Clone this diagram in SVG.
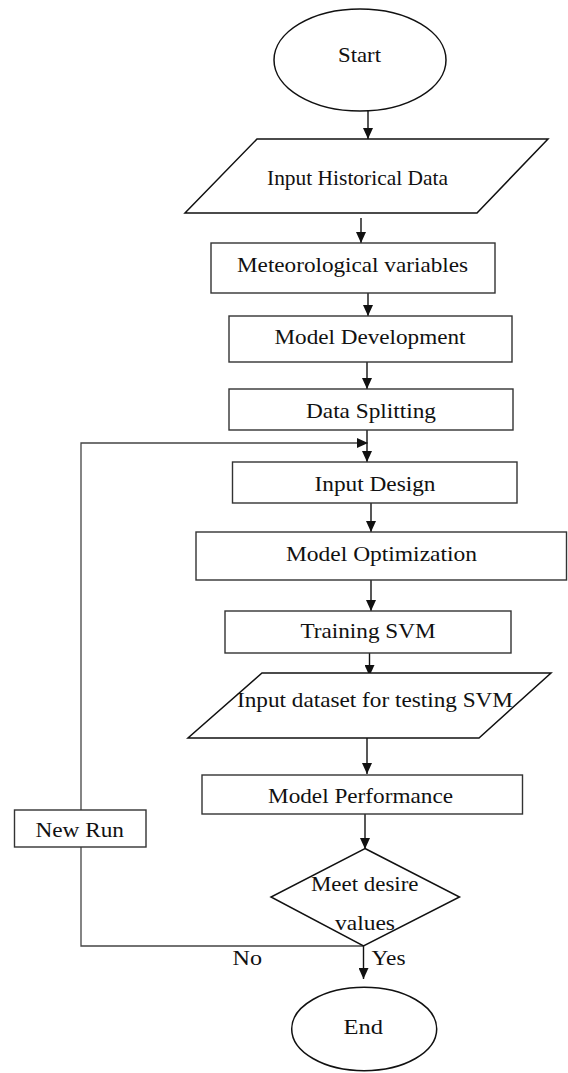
<svg xmlns="http://www.w3.org/2000/svg" width="568" height="1073" viewBox="0 0 568 1073">
  <style>
    .shape { fill: #ffffff; stroke: #333333; stroke-width: 1.4; }
    .term { fill: #ffffff; stroke: #111111; stroke-width: 1.5; }
    .lbl { font-family: "Liberation Serif", "Times New Roman", serif; font-size: 21.5px; fill: #111111; }
    .wire { fill: none; stroke: #111111; stroke-width: 1.4; }
    .loop { fill: none; stroke: #444444; stroke-width: 1.3; }
  </style>
  <defs>
    <marker id="arrow" markerUnits="userSpaceOnUse" markerWidth="11" markerHeight="10" refX="11" refY="5" orient="auto">
      <path d="M0,0 L11,5 L0,10 z" fill="#111111"/>
    </marker>
  </defs>

  <rect width="568" height="1073" fill="#ffffff"/>

  <!-- connectors -->
  <g id="connectors">
    <line class="wire" x1="368" y1="111" x2="368" y2="139" marker-end="url(#arrow)"/>
    <line class="wire" x1="361" y1="218" x2="361" y2="243" marker-end="url(#arrow)"/>
    <line class="wire" x1="368" y1="293" x2="368" y2="316" marker-end="url(#arrow)"/>
    <line class="wire" x1="367" y1="362" x2="367" y2="389" marker-end="url(#arrow)"/>
    <line class="wire" x1="367" y1="430" x2="367" y2="462" marker-end="url(#arrow)"/>
    <polyline class="loop" points="81,810 81,443 368,443" marker-end="url(#arrow)"/>
    <line class="wire" x1="371" y1="503" x2="371" y2="532" marker-end="url(#arrow)"/>
    <line class="wire" x1="371" y1="580" x2="371" y2="611" marker-end="url(#arrow)"/>
    <line class="wire" x1="369.5" y1="633" x2="369.5" y2="676" marker-end="url(#arrow)"/>
    <line class="wire" x1="367" y1="738" x2="367" y2="774" marker-end="url(#arrow)"/>
    <line class="wire" x1="365" y1="814" x2="365" y2="849" marker-end="url(#arrow)"/>
    <line class="wire" x1="363.5" y1="946" x2="363.5" y2="979" marker-end="url(#arrow)"/>
    <polyline class="loop" points="363.5,946 81,946 81,847"/>
    <text class="lbl" x="232.5" y="965" textLength="29.5" lengthAdjust="spacingAndGlyphs">No</text>
    <text class="lbl" x="371.5" y="965" textLength="34" lengthAdjust="spacingAndGlyphs">Yes</text>
  </g>

  <g id="start">
    <ellipse class="term" cx="360" cy="60" rx="86" ry="51"/>
    <text class="lbl" x="338" y="62" textLength="43" lengthAdjust="spacingAndGlyphs">Start</text>
  </g>

  <g id="input-historical-data">
    <polygon class="term" points="257,139 548,139 477,213 185,213"/>
    <text class="lbl" x="267" y="185" textLength="181" lengthAdjust="spacingAndGlyphs">Input Historical Data</text>
  </g>

  <g id="meteorological-variables">
    <rect class="shape" x="211" y="243" width="284" height="50"/>
    <text class="lbl" x="237" y="272" textLength="231" lengthAdjust="spacingAndGlyphs">Meteorological variables</text>
  </g>

  <g id="model-development">
    <rect class="shape" x="229" y="316" width="283" height="46"/>
    <text class="lbl" x="274.5" y="344" textLength="191" lengthAdjust="spacingAndGlyphs">Model Development</text>
  </g>

  <g id="data-splitting">
    <rect class="shape" x="229" y="389" width="284" height="41"/>
    <text class="lbl" x="306" y="418" textLength="130" lengthAdjust="spacingAndGlyphs">Data Splitting</text>
  </g>

  <g id="input-design">
    <rect class="shape" x="232.5" y="462" width="284.5" height="41"/>
    <text class="lbl" x="314.5" y="491" textLength="121" lengthAdjust="spacingAndGlyphs">Input Design</text>
  </g>

  <g id="model-optimization">
    <rect class="shape" x="196" y="532" width="370.5" height="48"/>
    <text class="lbl" x="286" y="561" textLength="191" lengthAdjust="spacingAndGlyphs">Model Optimization</text>
  </g>

  <g id="training-svm">
    <rect class="shape" x="225" y="611" width="286" height="42"/>
    <text class="lbl" x="300.5" y="638" textLength="135" lengthAdjust="spacingAndGlyphs">Training SVM</text>
  </g>

  <g id="input-testing-dataset">
    <polygon class="term" points="262,673 551,673 479,738 188,738"/>
    <text class="lbl" x="237" y="707" textLength="276" lengthAdjust="spacingAndGlyphs">Input dataset for testing SVM</text>
  </g>

  <g id="model-performance">
    <rect class="shape" x="202" y="775" width="320.5" height="39"/>
    <text class="lbl" x="268" y="803" textLength="185" lengthAdjust="spacingAndGlyphs">Model Performance</text>
  </g>

  <g id="new-run">
    <rect class="shape" x="14.5" y="810" width="131.5" height="37"/>
    <text class="lbl" x="35.5" y="837" textLength="88.5" lengthAdjust="spacingAndGlyphs">New Run</text>
  </g>

  <g id="decision">
    <polygon class="term" points="365,848.5 459.5,897 363.5,946 271,897"/>
    <text class="lbl" x="311" y="891" textLength="107.5" lengthAdjust="spacingAndGlyphs">Meet desire</text>
    <text class="lbl" x="335" y="930" textLength="60" lengthAdjust="spacingAndGlyphs">values</text>
  </g>

  <g id="end">
    <ellipse class="term" cx="364.2" cy="1029" rx="72.5" ry="41.7"/>
    <text class="lbl" x="343.5" y="1034" textLength="39.5" lengthAdjust="spacingAndGlyphs">End</text>
  </g>
</svg>
